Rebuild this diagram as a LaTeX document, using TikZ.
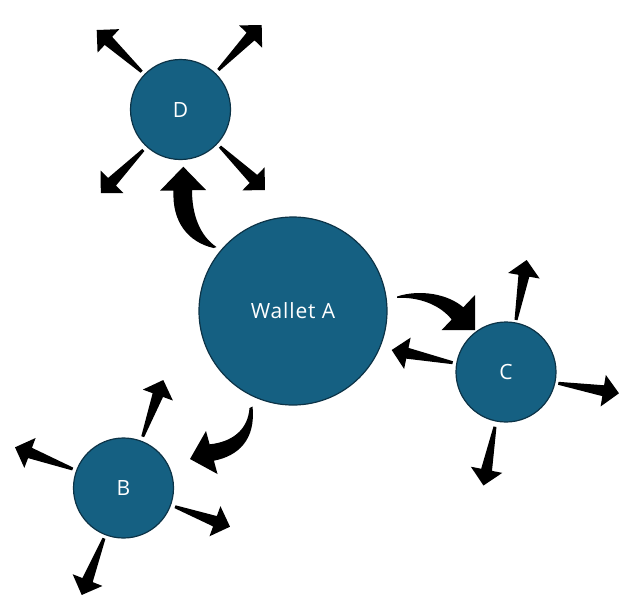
\documentclass[tikz,border=0pt]{standalone}
\usepackage{fontspec}
\setmainfont{Open Sans}
\definecolor{wfill}{HTML}{156082}
\definecolor{wline}{HTML}{0C3347}
\tikzset{
  wallet/.style={circle, fill=wfill, draw=wline, line width=1.2pt, text=white, inner sep=0pt,
    font=\addfontfeatures{LetterSpace=4}\fontsize{21}{25}\selectfont},
  arrowfill/.style={fill=black},
}
\newcommand\sarrow[4]{%
  \pgfmathsetmacro\aang{atan2(-(#4-#2),#3-#1)}%
  \pgfmathsetmacro\alen{veclen(#3-#1,#4-#2)}%
  \fill[arrowfill, shift={(#1,#2)}, rotate=\aang]
    (0,1.5) -- (\alen-16,5.5) -- (\alen-16,16) -- (\alen,0) -- (\alen-16,-16)
    -- (\alen-16,-5.5) -- (0,-1.5) -- cycle;
}
\begin{document}
\begin{tikzpicture}[x=1pt,y=-1pt]
\useasboundingbox (0,0) rectangle (629,611);
\fill[white] (0,0) rectangle (629,611);
% circles
\node[wallet, minimum size=188pt] (A) at (293,311) {Wallet A};
\node[wallet, minimum size=100pt] (D) at (180.5,109.5) {D};
\node[wallet, minimum size=100pt] (C) at (506,372) {C};
\node[wallet, minimum size=100pt] (B) at (123.5,488) {B};
% curved arrows from Wallet A
\fill[arrowfill] (213.5,248) .. controls (188,242) and (172,222) .. (173.5,190.6)
  -- (160,190.7) -- (183.3,166.7) -- (206,190) -- (192,190.2)
  .. controls (192,215) and (200,236) .. (216.5,247) -- cycle;
\fill[arrowfill] (397,296.5) .. controls (420,289) and (448,294) .. (463.3,307.3)
  -- (475,295) -- (475,330) -- (441.7,330) -- (451.7,319.5)
  .. controls (440,305) and (420,297) .. (397,297.8) -- cycle;
\fill[arrowfill] (249.5,408) .. controls (248,430) and (232,442) .. (209.6,444.3)
  -- (206,431) -- (190,459) -- (217.5,474) -- (213.9,460.7)
  .. controls (238,456) and (256,440) .. (252.5,406.5) -- cycle;
% arrows from D
\sarrow{141.7}{71.7}{96.7}{30}
\sarrow{218.3}{70}{261.7}{25}
\sarrow{143.3}{150}{100.7}{193.3}
\sarrow{220}{146.7}{265}{190}
% arrows from C
\sarrow{452.7}{362.7}{391.7}{350}
\sarrow{516}{320}{526.7}{260}
\sarrow{558.3}{383.3}{619}{393.3}
\sarrow{495}{426.7}{483.5}{485.5}
% arrows from B
\sarrow{142.7}{436.7}{163.3}{380}
\sarrow{72.7}{469}{15}{447.3}
\sarrow{175}{506.7}{230}{526.7}
\sarrow{104}{538.3}{81.7}{595}
\end{tikzpicture}
\end{document}
